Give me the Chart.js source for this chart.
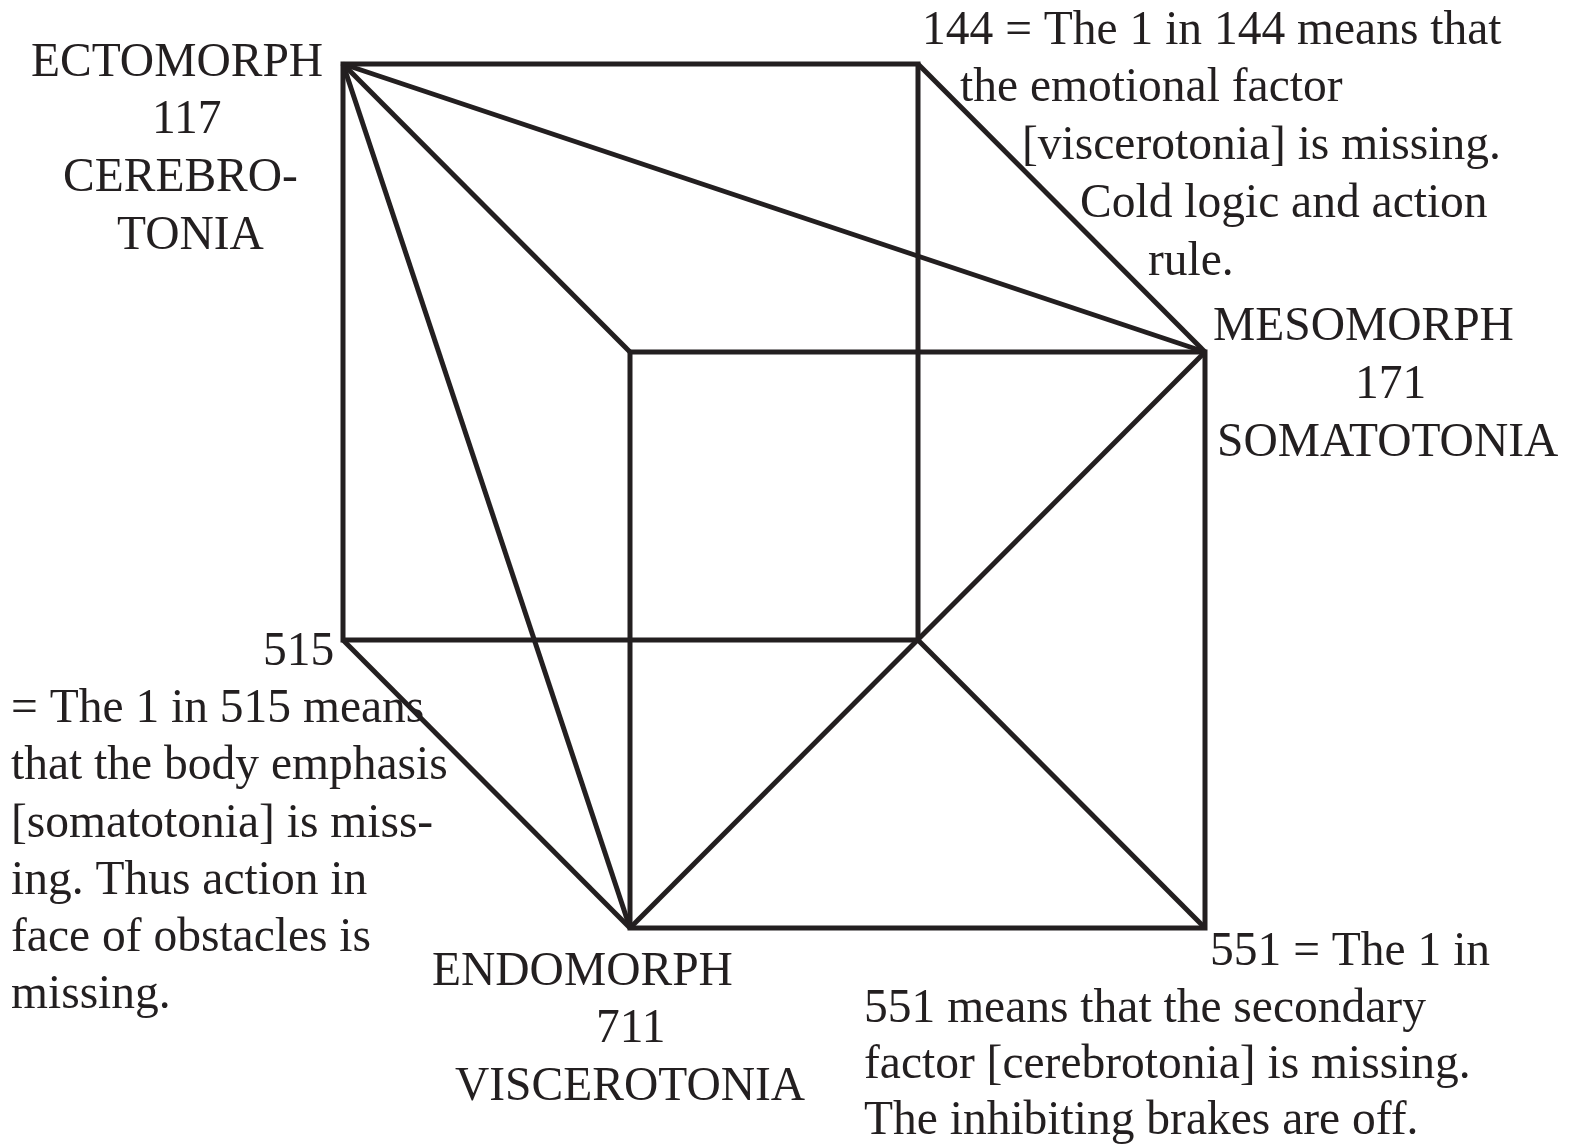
<!DOCTYPE html>
<html>
<head>
<meta charset="utf-8">
<script src="https://cdn.jsdelivr.net/npm/chart.js@4/dist/chart.umd.min.js"></script>
<style>
  html, body { margin: 0; padding: 0; background: #ffffff; }
  #wrap { width: 1570px; height: 1146px; }
  canvas { display: block; }
</style>
</head>
<body>
<div id="wrap"><canvas id="c" width="1570" height="1146"></canvas></div>
<script>
// ---- Data: cube vertices (in drawing units) ----
const vertexNames = ['ecto', 'backTop', 'frontTopLeft', 'meso', 'v515', 'backCenter', 'endo', 'v551'];
const vertexX     = [343,    918,       630,            1205,   343,    918,          630,    1205];
const vertexY     = [64,     64,        352,            352,    640,    640,          928,    928];

// ---- Edges as polylines through named vertices ----
const edgePaths = [
  ['v515', 'ecto', 'backTop', 'backCenter', 'v515', 'ecto'],
  ['frontTopLeft', 'meso', 'v551', 'endo', 'frontTopLeft', 'meso'],
  ['ecto', 'frontTopLeft'],
  ['backTop', 'meso'],
  ['v515', 'endo'],
  ['backCenter', 'v551'],
  ['ecto', 'meso'],
  ['ecto', 'endo'],
  ['meso', 'endo']
];

// ---- Text blocks ----
const ectoLines = ['ECTOMORPH', '117', 'CEREBRO-', 'TONIA'];
const note144Lines = ['144 = The 1 in 144 means that', 'the emotional factor', '[viscerotonia] is missing.', 'Cold logic and action', 'rule.'];
const mesoLines = ['MESOMORPH', '171', 'SOMATOTONIA'];
const note515Head = ['515'];
const note515Lines = ['= The 1 in 515 means', 'that the body emphasis', '[somatotonia] is miss-', 'ing. Thus action in', 'face of obstacles is', 'missing.'];
const endoLines = ['ENDOMORPH', '711', 'VISCEROTONIA'];
const note551Lines = ['551 = The 1 in', '551 means that the secondary', 'factor [cerebrotonia] is missing.', 'The inhibiting brakes are off.'];

// ---- Layout for text (anchor x, baseline y in drawing units) ----
const textLayout = [
  { lines: ectoLines, xs: [31, 152, 63, 117], ys: [76, 133, 191, 249] },
  { lines: note144Lines, xs: [922, 960, 1022, 1080, 1148], ys: [44, 101, 159, 217, 275] },
  { lines: mesoLines, xs: [1213, 1355, 1217], ys: [340, 398, 456] },
  { lines: note515Head, xs: [263], ys: [665] },
  { lines: note515Lines, xs: [11, 11, 11, 11, 11, 11], ys: [722, 779, 837, 894, 951, 1008] },
  { lines: endoLines, xs: [432, 596, 455], ys: [985, 1042, 1100] },
  { lines: note551Lines, xs: [1210, 864, 864, 864], ys: [965, 1022, 1078, 1134] }
];

const INK = '#231f20';
const FONT = '47.5px "Liberation Serif", "Times New Roman", serif';

function pt(name) {
  const i = vertexNames.indexOf(name);
  return { x: vertexX[i], y: vertexY[i] };
}

const datasets = edgePaths.map(path => ({
  data: path.map(pt),
  showLine: true,
  borderColor: INK,
  backgroundColor: INK,
  borderWidth: 5,
  pointRadius: 0,
  pointHoverRadius: 0,
  fill: false,
  tension: 0,
  borderJoinStyle: 'miter',
  borderCapStyle: 'butt',
  clip: false
}));

const textPlugin = {
  id: 'textPlugin',
  beforeDraw(chart) {
    const ctx = chart.ctx;
    ctx.save();
    ctx.fillStyle = '#ffffff';
    ctx.fillRect(0, 0, chart.width, chart.height);
    ctx.restore();
  },
  afterDatasetsDraw(chart) {
    const ctx = chart.ctx;
    const xs = chart.scales.x, ys = chart.scales.y;
    ctx.save();
    ctx.font = FONT;
    ctx.fillStyle = INK;
    ctx.textAlign = 'left';
    ctx.textBaseline = 'alphabetic';
    textLayout.forEach(block => {
      block.lines.forEach((t, i) => {
        ctx.fillText(t, xs.getPixelForValue(block.xs[i]), ys.getPixelForValue(block.ys[i]));
      });
    });
    ctx.restore();
  }
};

new Chart(document.getElementById('c'), {
  type: 'scatter',
  data: { datasets },
  options: {
    responsive: false,
    animation: false,
    devicePixelRatio: 1,
    layout: { padding: 0 },
    plugins: { legend: { display: false }, tooltip: { enabled: false } },
    events: [],
    scales: {
      x: { type: 'linear', min: 0, max: 1570, display: false },
      y: { type: 'linear', min: 0, max: 1146, reverse: true, display: false }
    }
  },
  plugins: [textPlugin]
});
</script>
</body>
</html>
